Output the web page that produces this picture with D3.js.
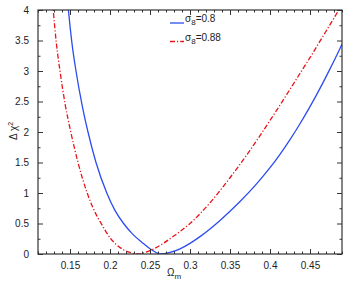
<!DOCTYPE html>
<html>
<head>
<meta charset="utf-8">
<script src="https://cdn.jsdelivr.net/npm/d3@7"></script>
<style>
  body { margin: 0; background: #fff; }
  svg text { font-family: "Liberation Sans", Arial, sans-serif; fill: #222; }
</style>
</head>
<body>
<svg id="chart" width="349" height="284"></svg>
<script>
// values
const omegaBlue = [0.145, 0.148, 0.1525, 0.1575, 0.165, 0.1725, 0.1825, 0.196, 0.206, 0.217, 0.228, 0.240, 0.250, 0.2575, 0.2625, 0.275, 0.2875, 0.300, 0.3125, 0.325, 0.3375, 0.350, 0.3625, 0.375, 0.3875, 0.400, 0.4125, 0.425, 0.4375, 0.450, 0.4625, 0.475, 0.4875, 0.490];
const chiBlue   = [4.45,  4.0,   3.45,   3.0,    2.45,  2.0,    1.5,    1.0,   0.72,  0.5,   0.33,  0.19,  0.085, 0.025,  0.0,    0.025, 0.085,  0.175, 0.285,  0.41,  0.55,   0.70,  0.86,   1.03,  1.215,  1.415, 1.635,  1.875, 2.135,  2.415, 2.715,  3.035, 3.37,   3.44];

const omegaRed = [0.126, 0.129, 0.133, 0.1375, 0.144, 0.151, 0.160, 0.1715, 0.180, 0.189, 0.201, 0.210, 0.2167, 0.225, 0.235, 0.245, 0.255, 0.265, 0.275, 0.2875, 0.300, 0.3125, 0.325, 0.3375, 0.350, 0.3625, 0.375, 0.3875, 0.400, 0.4125, 0.425, 0.4375, 0.450, 0.4625, 0.475, 0.4875, 0.490];
const chiRed   = [4.45,  4.0,   3.45,  3.0,    2.45,  2.0,   1.5,   1.0,    0.72,  0.5,   0.25,  0.13,  0.07,   0.025, 0.0,   0.03,  0.085, 0.16,  0.25,  0.37,   0.5,   0.66,   0.84,  1.04,   1.25,  1.47,   1.70,  1.94,   2.19,  2.44,   2.70,  2.96,   3.22,  3.49,   3.76,  4.03,   4.08];

const xTicks = [0.15, 0.2, 0.25, 0.3, 0.35, 0.4, 0.45];
const yTicks = [0, 0.5, 1, 1.5, 2, 2.5, 3, 3.5, 4];
const legendLabels = ["0.8", "0.88"];

const svg = d3.select('#chart');
const margin = { left: 38, right: 7, top: 10, bottom: 30 };
const W = 349, H = 284;

const x = d3.scaleLinear().domain([0.11, 0.49]).range([margin.left, W - margin.right]);
const y = d3.scaleLinear().domain([0, 4]).range([H - margin.bottom, margin.top]);

// clip curves to the frame
svg.append('defs').append('clipPath').attr('id', 'plot-clip')
  .append('rect')
  .attr('x', x.range()[0]).attr('y', y.range()[1])
  .attr('width', x.range()[1] - x.range()[0])
  .attr('height', y.range()[0] - y.range()[1]);

const line = d3.line()
  .x(d => x(d[0]))
  .y(d => y(d[1]))
  .curve(d3.curveMonotoneX);

const plot = svg.append('g').attr('clip-path', 'url(#plot-clip)');

plot.append('path')
  .datum(d3.zip(omegaBlue, chiBlue))
  .attr('d', line)
  .attr('fill', 'none')
  .attr('stroke', '#2b4cf0')
  .attr('stroke-width', 1.3);

plot.append('path')
  .datum(d3.zip(omegaRed, chiRed))
  .attr('d', line)
  .attr('fill', 'none')
  .attr('stroke', '#e8141a')
  .attr('stroke-width', 1.3)
  .attr('stroke-dasharray', '5,2,1.2,2');

// axes, ticks pointing inward on all four sides
const xMinor = d3.range(0.11, 0.4901, 0.01).filter(v => !xTicks.some(t => Math.abs(t - v) < 1e-6));
const yMinor = d3.range(0.25, 4, 0.5);

function styleAxis(g) {
  g.select('.domain').remove();
  g.selectAll('.tick line').attr('stroke', '#333').attr('stroke-width', 1);
  g.selectAll('.tick text').style('font-size', '10px').attr('fill', '#222');
}

const axisFmt = d3.format('');

svg.append('g')
  .attr('transform', `translate(0,${y.range()[0]})`)
  .call(d3.axisBottom(x).tickValues(xTicks).tickSize(-5).tickPadding(8).tickFormat(axisFmt))
  .call(styleAxis);
svg.append('g')
  .attr('transform', `translate(0,${y.range()[0]})`)
  .call(d3.axisBottom(x).tickValues(xMinor).tickSize(-2.5).tickFormat(''))
  .call(styleAxis);
svg.append('g')
  .attr('transform', `translate(0,${y.range()[1]})`)
  .call(d3.axisTop(x).tickValues(xTicks).tickSize(-5).tickFormat(''))
  .call(styleAxis);
svg.append('g')
  .attr('transform', `translate(0,${y.range()[1]})`)
  .call(d3.axisTop(x).tickValues(xMinor).tickSize(-2.5).tickFormat(''))
  .call(styleAxis);

svg.append('g')
  .attr('transform', `translate(${x.range()[0]},0)`)
  .call(d3.axisLeft(y).tickValues(yTicks).tickSize(-5).tickPadding(9).tickFormat(axisFmt))
  .call(styleAxis);
svg.append('g')
  .attr('transform', `translate(${x.range()[0]},0)`)
  .call(d3.axisLeft(y).tickValues(yMinor).tickSize(-2.5).tickFormat(''))
  .call(styleAxis);
svg.append('g')
  .attr('transform', `translate(${x.range()[1]},0)`)
  .call(d3.axisRight(y).tickValues(yTicks).tickSize(-5).tickFormat(''))
  .call(styleAxis);
svg.append('g')
  .attr('transform', `translate(${x.range()[1]},0)`)
  .call(d3.axisRight(y).tickValues(yMinor).tickSize(-2.5).tickFormat(''))
  .call(styleAxis);

// frame
svg.append('rect')
  .attr('x', x.range()[0]).attr('y', y.range()[1])
  .attr('width', x.range()[1] - x.range()[0])
  .attr('height', y.range()[0] - y.range()[1])
  .attr('fill', 'none')
  .attr('stroke', '#333')
  .attr('stroke-width', 1.2);

// axis titles
const xt = svg.append('text')
  .attr('x', 167).attr('y', 276)
  .style('font-size', '10px');
xt.append('tspan').text('Ω');
xt.append('tspan').attr('dy', 3).style('font-size', '8px').text('m');

const yt = svg.append('text')
  .attr('transform', 'translate(17,140) rotate(-90)')
  .style('font-size', '10px');
yt.append('tspan').text('Δ χ');
yt.append('tspan').attr('dy', -4).style('font-size', '7px').text('2');

// legend
const legend = svg.append('g');
const legendStyles = [
  { stroke: '#2b4cf0', dash: null },
  { stroke: '#e8141a', dash: '5,2,1.2,2' }
];
legendLabels.forEach((lab, i) => {
  const ly = 23 + i * 18.5;
  legend.append('line')
    .attr('x1', 170).attr('x2', 184)
    .attr('y1', ly).attr('y2', ly)
    .attr('stroke', legendStyles[i].stroke)
    .attr('stroke-width', 1.3)
    .attr('stroke-dasharray', legendStyles[i].dash);
  const t = legend.append('text')
    .attr('x', 185).attr('y', ly - 1)
    .style('font-size', '10px');
  t.append('tspan').text('σ');
  t.append('tspan').attr('dy', 3).style('font-size', '8px').text('8');
  t.append('tspan').attr('dy', -3).text('=' + lab);
});
</script>
</body>
</html>
